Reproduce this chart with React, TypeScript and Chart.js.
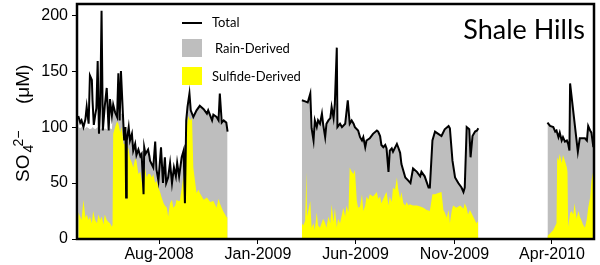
import React, { useEffect, useRef } from "react";
import { Chart, registerables } from "chart.js";

Chart.register(...registerables);

// x values are days since 2008-08-01; null marks a gap in sampling
const totalDays = [
  -125, -122, -120, -117, -114, -112, -109, -107, -104, -103, -101, -99, -97, -95, -93, -91, -89, -87, -84, -81,
  -78, -76, -73, -71, -68, -65, -63, -61, -59, -56, -54, -52, -51, -50, -47, -45, -42, -40, -37, -35,
  -32, -29, -27, -24, -23, -21, -17, -15, -14, -9, -6, -4, -1, 3, 6, 9, 11, 14, 17, 20,
  23, 26, 28, 31, 35, 38, 40, 42, 44, 47, 49, 53, 58, 63, 69, 74, 76, 82, 84, 89,
  92, 94, 97, 100, 104, 106,
  160,
  221, 226, 230, 234, 236, 239, 241, 244, 246, 249, 252, 254, 257, 259, 262, 265, 267, 270, 272, 275,
  276, 280, 283, 288, 292, 295, 298, 301, 303, 308, 311, 314, 316, 319, 321, 326, 331, 337, 339, 342,
  344, 347, 350, 352, 355, 357, 360, 362, 368, 370, 373, 375, 381, 386, 389, 393, 399, 404, 406, 411,
  417, 419, 423, 427, 432, 437, 442, 448, 450, 454, 458, 463, 468, 471, 473, 476, 480, 482, 485, 489,
  492, 494,
  550,
  601, 605, 610, 613, 615, 618, 620, 623, 625, 628, 631, 633, 635, 636, 648, 651, 659, 662, 664, 667,
  669, 672,
];

const totalValues = [
  110, 104, 106, 100, 107, 118, 103, 146, 142, 124, 102, 110, 117, 159, 94, 120, 204, 97, 119, 135,
  97, 125, 110, 120, 113, 109, 148, 106, 150, 112, 88, 100, 37, 88, 100, 88, 94, 79, 85, 75,
  80, 74, 76, 40, 82, 76, 80, 74, 70, 64, 87, 62, 52, 82, 50, 73, 50, 55, 68, 50,
  64, 56, 68, 56, 73, 79, 32, 106, 118, 130, 115, 109, 115, 119, 116, 112, 115, 106, 111, 109,
  106, 130, 104, 106, 104, 96,
  null,
  124, 123, 122, 130, 99, 88, 106, 100, 106, 103, 112, 102, 91, 103, 106, 108, 118, 108, 121, 171,
  100, 103, 100, 103, 124, 103, 106, 103, 100, 97, 91, 88, 91, 82, 88, 90, 94, 97, 96, 92,
  84, 82, 84, 81, 60, 79, 81, 78, 85, 82, 77, 67, 55, 52, 50, 63, 60, 56, 60, 56,
  46, 46, 88, 96, 94, 92, 98, 101, 99, 70, 55, 50, 46, 42, 46, 100, 98, 73, 92, 96,
  97, 99,
  null,
  104, 101, 100, 96, 97, 91, 95, 88, 91, 87, 88, 85, 79, 139, 78, 90, 90, 88, 101, 97,
  95, 82,
];

// top of the grey (rain-derived) band, same days as totalDays
const rainTopValues = [
  100, 99, 100, 98, 99, 100, 99, 98, 99, 100, 99, 98, 99, 100, 94, 98, 99, 97, 99, 98,
  97, 99, 98, 120, 113, 109, 112, 106, 112, 112, 88, 100, 37, 88, 100, 88, 94, 79, 85, 75,
  80, 74, 76, 40, 82, 76, 80, 74, 70, 64, 87, 62, 52, 82, 50, 73, 50, 55, 68, 50,
  64, 56, 68, 56, 73, 79, 32, 106, 118, 130, 115, 109, 115, 119, 116, 112, 115, 106, 111, 109,
  106, 110, 104, 106, 104, 96,
  null,
  124, 123, 122, 130, 99, 88, 106, 100, 106, 103, 112, 102, 91, 103, 106, 108, 118, 108, 121, 121,
  100, 103, 100, 103, 118, 103, 106, 103, 100, 97, 91, 88, 91, 82, 88, 90, 94, 97, 96, 92,
  84, 82, 84, 81, 60, 79, 81, 78, 85, 82, 77, 67, 55, 52, 50, 63, 60, 56, 60, 56,
  46, 46, 88, 96, 94, 92, 98, 101, 99, 70, 55, 50, 46, 42, 46, 100, 98, 73, 92, 96,
  97, 99,
  null,
  104, 101, 100, 96, 97, 91, 95, 88, 91, 87, 88, 85, 79, 139, 78, 90, 90, 88, 101, 97,
  95, 82,
];

const sulfideDays = [
  -125, -122, -120, -117, -114, -112, -109, -107, -104, -102, -99, -96, -94, -91, -89, -86, -84, -81, -78, -76,
  -73, -72, -71, -68, -65, -63, -60, -58, -55, -53, -51, -50, -47, -45, -42, -40, -37, -35, -32, -29,
  -27, -24, -22, -19, -17, -14, -11, -9, -6, -4, -1, 2, 4, 7, 9, 12, 14, 17, 20, 22,
  25, 27, 30, 32, 35, 38, 40, 43, 45, 48, 51, 53, 56, 58, 61, 63, 69, 74, 79, 84,
  89, 92, 94, 99, 105, 106,
  160,
  221, 223, 226, 228, 229, 234, 236, 239, 241, 244, 246, 249, 252, 254, 257, 259, 262, 265, 267, 270,
  272, 275, 277, 280, 283, 285, 288, 290, 293, 295, 298, 301, 303, 306, 308, 311, 314, 316, 319, 321,
  324, 326, 331, 337, 339, 342, 344, 347, 350, 352, 355, 357, 360, 362, 365, 368, 370, 373, 375, 378,
  381, 383, 386, 388, 393, 399, 404, 409, 414, 419, 423, 427, 432, 437, 440, 442, 445, 448, 450, 453,
  455, 460, 466, 471, 473, 476, 478, 481, 486, 491, 494,
  550,
  601, 605, 610, 615, 616, 618, 620, 623, 625, 628, 631, 632, 633, 636, 638, 641, 643, 646, 649, 651,
  654, 656, 659, 662, 664, 667, 669, 672,
];

const sulfideValues = [
  24, 20, 17, 35, 19, 22, 17, 20, 14, 25, 17, 14, 22, 17, 20, 13, 22, 17, 15, 14,
  11, 13, 94, 100, 105, 103, 95, 100, 85, 85, 35, 85, 80, 72, 68, 64, 72, 70, 58, 60,
  52, 41, 64, 55, 58, 58, 55, 58, 50, 52, 46, 41, 37, 32, 30, 28, 20, 32, 35, 28,
  30, 35, 34, 34, 45, 58, 31, 100, 110, 106, 108, 64, 50, 41, 44, 41, 35, 37, 33, 34,
  28, 36, 32, 25, 19, 20,
  null,
  14, 12, 16, 60, 20, 34, 10, 14, 8, 24, 12, 10, 15, 18, 14, 10, 20, 14, 31, 15,
  28, 10, 18, 14, 22, 28, 20, 30, 24, 64, 60, 58, 62, 34, 28, 29, 40, 25, 30, 38,
  35, 40, 38, 42, 36, 38, 32, 36, 40, 42, 30, 38, 33, 46, 44, 55, 45, 36, 42, 32,
  30, 33, 30, 31, 30, 30, 29, 28, 26, 25, 40, 40, 41, 42, 26, 24, 19, 26, 14, 26,
  30, 28, 30, 27, 32, 28, 22, 26, 20, 14, 16,
  null,
  3, 5, 8, 14, 73, 70, 76, 68, 75, 70, 64, 60, 11, 23, 25, 22, 32, 18, 25, 20,
  16, 13, 10, 18, 28, 37, 52, 61,
];

const yTickValues = [0, 50, 100, 150, 200];
const xTickDays = [0, 153, 304, 457, 608];
const xTickLabels = ["Aug-2008", "Jan-2009", "Jun-2009", "Nov-2009", "Apr-2010"];
const seriesNames = ["Total", "Rain-Derived", "Sulfide-Derived"];
const chartTitle = "Shale Hills";

const GREY = "#bebebe";
const YELLOW = "#ffff00";
const AXIS_FONT = "'Liberation Sans', Arial, sans-serif";
const LABEL_FONT = "Lato, 'Open Sans', sans-serif";

const toPoints = (xs: number[], ys: (number | null)[]) => xs.map((x, i) => ({ x, y: ys[i] }));

const overlayPlugin = {
  id: "overlay",
  afterDraw(chart: any) {
    const { ctx, chartArea: a } = chart;
    ctx.save();
    // frame
    ctx.strokeStyle = "#000";
    ctx.lineWidth = 2.5;
    ctx.strokeRect(a.left, a.top, a.right - a.left, a.bottom - a.top);

    // legend
    const lx = a.left + 105;
    ctx.lineWidth = 2;
    ctx.beginPath();
    ctx.moveTo(lx, a.top + 19);
    ctx.lineTo(lx + 20, a.top + 19);
    ctx.stroke();
    ctx.fillStyle = GREY;
    ctx.fillRect(lx, a.top + 35, 20, 18);
    ctx.fillStyle = YELLOW;
    ctx.fillRect(lx, a.top + 63, 20, 18);
    ctx.fillStyle = "#000";
    ctx.font = `13px ${LABEL_FONT}`;
    ctx.textBaseline = "middle";
    ctx.textAlign = "left";
    ctx.fillText(seriesNames[0], lx + 30, a.top + 19);
    ctx.fillText(seriesNames[1], lx + 33, a.top + 44.5);
    ctx.fillText(seriesNames[2], lx + 30, a.top + 72.5);

    // title
    ctx.font = `27px ${LABEL_FONT}`;
    ctx.textAlign = "right";
    ctx.textBaseline = "alphabetic";
    ctx.fillText(chartTitle, a.right - 9, a.top + 35);

    // y-axis title: SO4^2- (uM)
    ctx.translate(29, 182);
    ctx.rotate(-Math.PI / 2);
    ctx.textAlign = "left";
    ctx.font = `19px ${AXIS_FONT}`;
    ctx.fillText("SO", 0, 0);
    const wSO = ctx.measureText("SO").width;
    ctx.font = `14px ${AXIS_FONT}`;
    ctx.fillText("4", wSO + 2, 4);
    ctx.fillText("2\u2212", wSO + 8, -6.5);
    ctx.font = `19px ${AXIS_FONT}`;
    ctx.fillText("(\u03bcM)", 78, 0);
    ctx.restore();
  },
};

export default function App() {
  const canvasRef = useRef<HTMLCanvasElement | null>(null);

  useEffect(() => {
    const canvas = canvasRef.current;
    if (!canvas) return;
    const chart = new Chart(canvas, {
      type: "line",
      data: {
        datasets: [
          {
            label: seriesNames[0],
            data: toPoints(totalDays, totalValues),
            borderColor: "#000",
            borderWidth: 2,
            pointRadius: 0,
            fill: false,
            tension: 0,
            spanGaps: false,
          },
          {
            label: seriesNames[2],
            data: toPoints(sulfideDays, sulfideValues),
            borderWidth: 0,
            borderColor: "rgba(0,0,0,0)",
            backgroundColor: YELLOW,
            pointRadius: 0,
            fill: "origin",
            tension: 0,
            spanGaps: false,
          },
          {
            label: seriesNames[1],
            data: toPoints(totalDays, rainTopValues),
            borderWidth: 0,
            borderColor: "rgba(0,0,0,0)",
            backgroundColor: GREY,
            pointRadius: 0,
            fill: "origin",
            tension: 0,
            spanGaps: false,
          },
        ],
      } as any,
      options: {
        responsive: false,
        animation: false,
        devicePixelRatio: 1,
        layout: { padding: { top: 4, right: 6, left: 0, bottom: 0 } },
        plugins: { legend: { display: false }, tooltip: { enabled: false } },
        scales: {
          x: {
            type: "linear",
            min: -127,
            max: 673,
            afterBuildTicks: (s: any) => {
              s.ticks = xTickDays.map((v) => ({ value: v }));
            },
            afterFit: (s: any) => {
              s.height = 26;
              s.paddingLeft = 0;
              s.paddingRight = 0;
            },
            ticks: {
              autoSkip: false,
              maxRotation: 0,
              padding: 1,
              color: "#000",
              font: { family: AXIS_FONT, size: 16 },
              callback: (v: any) => xTickLabels[xTickDays.indexOf(Number(v))] ?? "",
            },
            grid: { display: true, drawOnChartArea: false, drawTicks: true, tickLength: 5, color: "#000", lineWidth: 1 },
            border: { display: false },
          },
          y: {
            type: "linear",
            min: 0,
            max: 210,
            afterBuildTicks: (s: any) => {
              s.ticks = yTickValues.map((v) => ({ value: v }));
            },
            afterFit: (s: any) => {
              s.width = 77;
              s.paddingTop = 0;
              s.paddingBottom = 0;
            },
            ticks: {
              padding: 4,
              color: "#000",
              font: { family: AXIS_FONT, size: 16 },
            },
            grid: { display: true, drawOnChartArea: false, drawTicks: true, tickLength: 5, color: "#000", lineWidth: 1 },
            border: { display: false },
          },
        },
      } as any,
      plugins: [overlayPlugin],
    });
    return () => chart.destroy();
  }, []);

  return (
    <div style={{ position: "absolute", left: 0, top: 0, width: 600, height: 265, background: "#fff" }}>
      <canvas ref={canvasRef} width={600} height={265} style={{ display: "block" }} />
    </div>
  );
}
